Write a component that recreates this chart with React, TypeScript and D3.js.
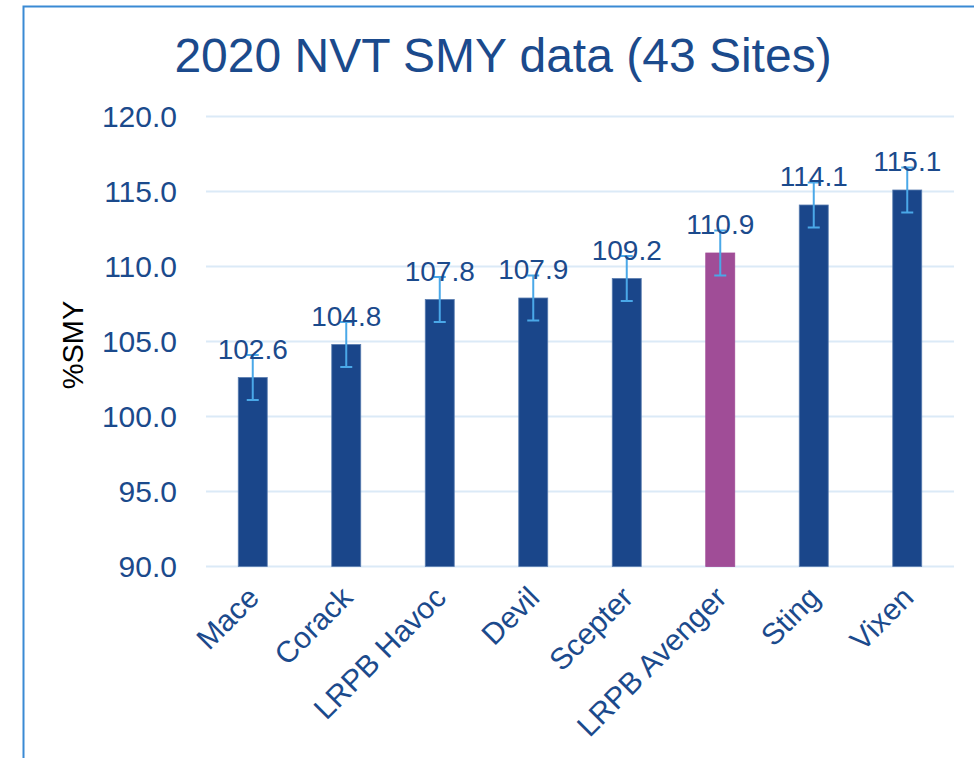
import React from "react";
import * as d3 from "d3";

const categories = ["Mace", "Corack", "LRPB Havoc", "Devil", "Scepter", "LRPB Avenger", "Sting", "Vixen"];
const values = [102.6, 104.8, 107.8, 107.9, 109.2, 110.9, 114.1, 115.1];
const errors = [1.5, 1.5, 1.5, 1.5, 1.5, 1.5, 1.5, 1.5];
const highlighted = ["LRPB Avenger"];
const yTicks = [90, 95, 100, 105, 110, 115, 120];

const W = 974;
const H = 758;
const FONT = "'Liberation Sans', Arial, sans-serif";

export default function App() {
  const x = d3.scaleBand<string>().domain(categories).range([206, 954]).paddingInner(0.69).paddingOuter(0.345);
  const y = d3.scaleLinear().domain([90, 120]).range([566.5, 116.5]);
  const bw = x.bandwidth();
  const fmt = d3.format(".1f");

  return (
    <svg width={W} height={H} style={{ position: "absolute", left: 0, top: 0, background: "#fff" }} fontFamily={FONT}>
      <rect x={0} y={0} width={W} height={H} fill="#fff" />
      {/* frame */}
      <path d={`M23.5,${H} V6.5 H${W}`} fill="none" stroke="#3a8ad4" strokeWidth={2} />
      {/* title */}
      <text x={503} y={72} textAnchor="middle" fontSize={48} fill="#1b4a8c">
        2020 NVT SMY data (43 Sites)
      </text>
      {/* gridlines */}
      {yTicks.map((t) => (
        <line key={t} x1={206} x2={954} y1={y(t)} y2={y(t)} stroke="#dbeaf7" strokeWidth={2} />
      ))}
      {/* y tick labels */}
      {yTicks.map((t) => (
        <text key={"l" + t} x={177} y={y(t)} dy="0.36em" textAnchor="end" fontSize={30} fill="#1b4a8c">
          {fmt(t)}
        </text>
      ))}
      {/* y axis title */}
      <text transform={`translate(83,345) rotate(-90)`} textAnchor="middle" fontSize={29} fill="#000">
        %SMY
      </text>
      {/* bars */}
      {categories.map((c, i) => (
        <rect
          key={c}
          x={x(c)!}
          y={y(values[i])}
          width={bw}
          height={y(90) - y(values[i])}
          fill={highlighted.includes(c) ? "#a04d97" : "#1a468a"}
          stroke={highlighted.includes(c) ? "#a04d97" : "#5a7db0"}
          strokeWidth={0.8}
        />
      ))}
      {/* error bars */}
      {categories.map((c, i) => {
        const cx = x(c)! + bw / 2;
        const top = y(values[i] + errors[i]);
        const bot = y(values[i] - errors[i]);
        return (
          <g key={"e" + c} stroke="#4aa8e8" strokeWidth={2}>
            <line x1={cx} x2={cx} y1={top} y2={bot} />
            <line x1={cx - 6} x2={cx + 6} y1={top} y2={top} />
            <line x1={cx - 6} x2={cx + 6} y1={bot} y2={bot} />
          </g>
        );
      })}
      {/* value labels */}
      {categories.map((c, i) => (
        <text key={"v" + c} x={x(c)! + bw / 2} y={y(values[i]) - 19} textAnchor="middle" fontSize={28} fill="#1b4a8c">
          {fmt(values[i])}
        </text>
      ))}
      {/* x labels */}
      {categories.map((c) => (
        <text
          key={"x" + c}
          transform={`translate(${x(c)! + bw / 2 + 8},${y(90) + 33}) rotate(-45)`}
          textAnchor="end"
          fontSize={30}
          fill="#1b4a8c"
        >
          {c}
        </text>
      ))}
    </svg>
  );
}
